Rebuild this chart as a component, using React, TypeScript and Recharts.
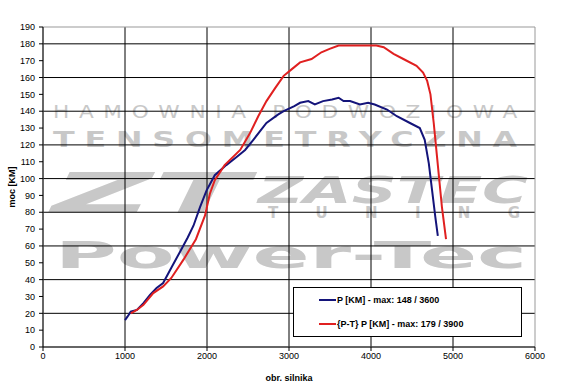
import React from 'react';
import { LineChart, Line, XAxis, YAxis, CartesianGrid, Legend, ReferenceArea } from 'recharts';

const blueRpm = [1000, 1030, 1070, 1145, 1225, 1305, 1385, 1465, 1565, 1665, 1765, 1835, 1915, 1995, 2095, 2235, 2365, 2465, 2565, 2725, 2865, 2935, 3065, 3135, 3235, 3315, 3415, 3525, 3605, 3665, 3745, 3865, 3965, 4045, 4195, 4315, 4475, 4595, 4655, 4705, 4745, 4785, 4815];
const blueP = [16, 18, 21, 22, 26, 31, 35, 38, 47, 56, 65, 72, 83, 93, 102, 108, 113, 117, 123, 133, 138, 140, 143, 145, 146, 144, 146, 147, 148, 146, 146, 144, 145, 144, 141, 137, 133, 130, 123, 109, 93, 77, 66];

const redRpm = [1070, 1145, 1225, 1345, 1465, 1565, 1715, 1865, 1975, 2035, 2095, 2215, 2405, 2525, 2625, 2725, 2835, 2935, 3035, 3135, 3275, 3395, 3495, 3605, 3765, 3985, 4065, 4155, 4275, 4395, 4555, 4635, 4685, 4725, 4765, 4805, 4865, 4915];
const redP = [20, 22, 25, 32, 36, 41, 52, 64, 78, 91, 99, 108, 117, 127, 137, 146, 154, 161, 165, 169, 171, 175, 177, 179, 179, 179, 179, 178, 174, 171, 167, 163, 158, 150, 133, 113, 83, 64];

const xTicks = [0, 1000, 2000, 3000, 4000, 5000, 6000];
const yTicks = [0, 10, 20, 30, 40, 50, 60, 70, 80, 90, 100, 110, 120, 130, 140, 150, 160, 170, 180, 190];
const seriesNames = ['P [KM] - max: 148 / 3600', '{P-T} P [KM] - max: 179 / 3900'];
const seriesColors = ['#14147a', '#e02020'];
const xTitle = 'obr. silnika';
const yTitle = 'moc [KM]';
const watermarkLines = ['HAMOWNIA PODWOZIOWA', 'TENSOMETRYCZNA', 'ZT', 'ZASTEC', 'TUNING', 'Power-Tec'];

const blueData = blueRpm.map((rpm, i) => ({ rpm, v: blueP[i] }));
const redData = redRpm.map((rpm, i) => ({ rpm, v: redP[i] }));

const FONT = '"Liberation Sans", Arial, sans-serif';
const WMFONT = '"DejaVu Sans", sans-serif';
const WM = '#c8c8c8';

const renderLegend = () => (
  <div
    style={{
      width: 227,
      height: 48,
      border: '1px solid #000',
      background: '#fff',
      fontFamily: FONT,
      fontWeight: 'bold',
      fontSize: 9,
      color: '#000',
      position: 'relative',
    }}
  >
    {seriesNames.map((name, i) => (
      <div
        key={name}
        style={{ position: 'absolute', left: 25, top: 6 + i * 24, height: 12, display: 'flex', alignItems: 'center', whiteSpace: 'nowrap' }}
      >
        <div style={{ width: 17, height: 2, background: seriesColors[i], marginRight: 1 }} />
        <span>{name}</span>
      </div>
    ))}
  </div>
);

export default function App() {
  return (
    <div style={{ position: 'absolute', left: 0, top: 0, width: 561, height: 391, background: '#fff', overflow: 'hidden' }}>
      <svg width={561} height={391} style={{ position: 'absolute', left: 0, top: 0 }}>
        <text x={53} y={118} fontFamily={WMFONT} fontSize={18} letterSpacing={8} fill={WM} textLength={474} lengthAdjust="spacingAndGlyphs">{watermarkLines[0]}</text>
        <text x={53} y={147} fontFamily={WMFONT} fontWeight="bold" fontSize={21} letterSpacing={6.5} fill={WM} textLength={474} lengthAdjust="spacingAndGlyphs">{watermarkLines[1]}</text>
        <text x={52} y={212} fontFamily={WMFONT} fontWeight="bold" fontStyle="italic" fontSize={56} fill={WM} textLength={196} lengthAdjust="spacingAndGlyphs">{watermarkLines[2]}</text>
        <text fontFamily={WMFONT} fontWeight="bold" fill={WM}>
          <tspan x={258} y={203} fontStyle="italic" fontSize={38} textLength={270} lengthAdjust="spacingAndGlyphs">{watermarkLines[3]}</tspan>
          <tspan x={268} y={218} fontSize={15} textLength={252} lengthAdjust="spacing">{watermarkLines[4]}</tspan>
        </text>
        <text x={55} y={268} fontFamily={WMFONT} fontWeight="bold" fontSize={38} fill={WM} textLength={472} lengthAdjust="spacingAndGlyphs">{watermarkLines[5]}</text>
      </svg>
      <div style={{ position: 'absolute', left: 0, top: 0 }}>
        <LineChart width={561} height={391} margin={{ top: 27, right: 26, bottom: 4, left: 0 }}>
          <CartesianGrid
            stroke="#000"
            strokeWidth={1}
            horizontalValues={yTicks.slice(1, -1)}
            verticalValues={xTicks.slice(1, -1)}
          />
          <ReferenceArea x1={0} x2={6000} y1={0} y2={190} fill="none" stroke="#999" strokeWidth={1} />
          <XAxis
            type="number"
            dataKey="rpm"
            domain={[0, 6000]}
            ticks={xTicks}
            height={40}
            tickSize={4}
            tickMargin={2}
            axisLine={{ stroke: '#000' }}
            tickLine={{ stroke: '#000' }}
            tick={{ fontSize: 9, fill: '#000', fontFamily: FONT }}
            allowDataOverflow
            label={{ value: xTitle, position: 'insideBottom', offset: 6, style: { fontSize: 9, fontWeight: 'bold', fill: '#000', fontFamily: FONT } }}
          />
          <YAxis
            type="number"
            domain={[0, 190]}
            ticks={yTicks}
            width={43}
            tickSize={4}
            tickMargin={4}
            axisLine={{ stroke: '#000' }}
            tickLine={{ stroke: '#000' }}
            tick={{ fontSize: 9, fill: '#000', fontFamily: FONT }}
            allowDataOverflow
            label={{
              content: () => (
                <text x={12} y={187} transform="rotate(-90 12 187)" textAnchor="middle" dominantBaseline="central" fontSize={9} fontWeight="bold" fontFamily={FONT} fill="#000">
                  {yTitle}
                </text>
              ),
            }}
          />
          <Line data={blueData} dataKey="v" name={seriesNames[0]} stroke={seriesColors[0]} strokeWidth={2} dot={false} isAnimationActive={false} type="linear" />
          <Line data={redData} dataKey="v" name={seriesNames[1]} stroke={seriesColors[1]} strokeWidth={2} dot={false} isAnimationActive={false} type="linear" />
          <Legend
            layout="vertical"
            align="center"
            verticalAlign="middle"
            content={renderLegend}
            wrapperStyle={{ left: 293, top: 287, width: 229, height: 50 }}
          />
        </LineChart>
      </div>
    </div>
  );
}
